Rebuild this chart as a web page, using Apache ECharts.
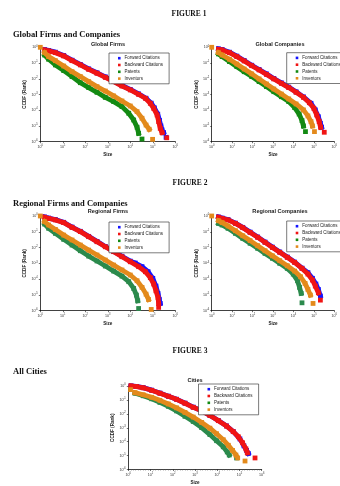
<!DOCTYPE html>
<html><head><meta charset="utf-8">
<script src="https://cdn.jsdelivr.net/npm/echarts@6/dist/echarts.min.js"></script>
<style>html,body{margin:0;padding:0;background:#fff}#c{width:340px;height:486px}</style>
</head><body><div id="c"></div>
<script>
// Values are log10 exponents: [log10(Size), log10(CCDF)]; null marks a visual gap between points.
const seriesNames = ['Forward Citations', 'Backward Citations', 'Patents', 'Inventors'];
const xTickExps = [0, 1, 2, 3, 4, 5, 6];
const yTickExps = [0, -1, -2, -3, -4, -5, -6];

// Global Firms
const gfForward = [[0.19,-0.15],[0.37,-0.2],[0.67,-0.31],[1.04,-0.52],[1.41,-0.82],[1.78,-1.09],[2.15,-1.37],[2.52,-1.62],[2.89,-1.88],[3.26,-2.15],[3.63,-2.43],[4.0,-2.68],[4.37,-2.96],[4.70,-3.24],[4.93,-3.55],[5.07,-3.85],[5.22,-4.25],[5.30,-4.65],[5.36,-5.0],[5.41,-5.25],[5.48,-5.42],null,[5.59,-5.72]];
const gfBackward = [[0.19,-0.17],[0.37,-0.23],[0.67,-0.34],[1.04,-0.55],[1.41,-0.85],[1.78,-1.12],[2.15,-1.40],[2.52,-1.65],[2.89,-1.91],[3.26,-2.18],[3.63,-2.46],[4.0,-2.71],[4.37,-2.99],[4.67,-3.24],[4.89,-3.56],[5.04,-3.88],[5.19,-4.30],[5.26,-4.72],[5.33,-5.15],[5.41,-5.42],null,[5.62,-5.75]];
const gfPatents = [[0.19,-0.49],[0.37,-0.76],[0.67,-1.12],[1.04,-1.48],[1.41,-1.86],[1.78,-2.25],[2.15,-2.56],[2.52,-2.86],[2.89,-3.18],[3.26,-3.45],[3.63,-3.77],[3.93,-4.19],[4.15,-4.62],[4.30,-5.08],[4.37,-5.47],null,[4.52,-5.83]];
const gfInventors = [[0,0],null,[0.19,-0.34],[0.37,-0.59],[0.67,-0.85],[1.04,-1.19],[1.41,-1.55],[1.78,-1.86],[2.15,-2.18],[2.52,-2.50],[2.89,-2.78],[3.26,-3.09],[3.63,-3.41],[4.0,-3.73],[4.30,-4.09],[4.52,-4.51],[4.70,-4.94],[4.84,-5.21],null,[4.99,-5.85]];

// Global Companies
const gcForward = [[0.33,-0.10],[0.51,-0.14],[0.87,-0.31],[1.23,-0.56],[1.59,-0.84],[1.96,-1.14],[2.32,-1.41],[2.68,-1.69],[3.04,-1.98],[3.41,-2.26],[3.77,-2.53],[4.13,-2.83],[4.49,-3.15],[4.86,-3.56],[5.07,-3.98],[5.22,-4.41],[5.32,-4.83],[5.38,-5.08]];
const gcBackward = [[0.33,-0.13],[0.51,-0.17],[0.87,-0.34],[1.23,-0.59],[1.59,-0.87],[1.96,-1.17],[2.32,-1.44],[2.68,-1.72],[3.04,-2.01],[3.41,-2.29],[3.77,-2.56],[4.13,-2.86],[4.49,-3.18],[4.78,-3.52],[5.0,-3.88],[5.14,-4.30],[5.26,-4.72],[5.33,-5.08],null,[5.51,-5.40]];
const gcPatents = [[0.33,-0.42],[0.51,-0.59],[0.87,-0.91],[1.23,-1.23],[1.59,-1.55],[1.96,-1.86],[2.32,-2.18],[2.68,-2.50],[3.04,-2.82],[3.41,-3.14],[3.77,-3.45],[4.06,-3.83],[4.28,-4.24],[4.42,-4.66],[4.49,-5.0],null,[4.59,-5.36]];
const gcInventors = [[0,0],null,[0.33,-0.34],[0.51,-0.49],[0.87,-0.76],[1.23,-1.06],[1.59,-1.38],[1.96,-1.69],[2.32,-2.01],[2.68,-2.33],[3.04,-2.65],[3.41,-2.97],[3.77,-3.28],[4.13,-3.60],[4.49,-3.98],[4.71,-4.36],[4.86,-4.72],[4.93,-5.0],null,[5.03,-5.36]];

// Regional Firms
const rfForward = [[0.19,-0.06],[0.37,-0.13],[0.67,-0.23],[1.04,-0.40],[1.41,-0.70],[1.78,-0.97],[2.15,-1.29],[2.52,-1.61],[2.89,-1.93],[3.26,-2.24],[3.63,-2.55],[4.0,-2.86],[4.22,-2.98],[4.52,-3.21],[4.79,-3.53],[5.0,-3.95],[5.14,-4.44],[5.23,-4.90],[5.29,-5.29],[5.33,-5.54]];
const rfBackward = [[0.19,-0.08],[0.37,-0.15],[0.67,-0.25],[1.04,-0.42],[1.41,-0.72],[1.78,-0.99],[2.15,-1.31],[2.52,-1.63],[2.89,-1.95],[3.26,-2.26],[3.63,-2.58],[4.0,-2.90],[4.37,-3.21],[4.67,-3.53],[4.89,-3.91],[5.04,-4.31],[5.14,-4.74],[5.23,-5.16],[5.26,-5.54],null,[5.26,-5.79]];
const rfPatents = [[0.19,-0.51],[0.37,-0.78],[0.67,-1.10],[1.04,-1.48],[1.41,-1.84],[1.78,-2.20],[2.15,-2.54],[2.52,-2.85],[2.89,-3.17],[3.26,-3.49],[3.63,-3.81],[3.93,-4.16],[4.15,-4.59],[4.27,-5.01],[4.33,-5.37],null,[4.37,-5.86]];
const rfInventors = [[0,0],null,[0.19,-0.36],[0.37,-0.57],[0.67,-0.85],[1.04,-1.21],[1.41,-1.52],[1.78,-1.84],[2.15,-2.16],[2.52,-2.47],[2.89,-2.79],[3.26,-3.11],[3.63,-3.42],[4.0,-3.74],[4.30,-4.10],[4.52,-4.52],[4.70,-4.95],[4.81,-5.29],null,[4.93,-5.92]];

// Regional Companies
const rcForward = [[0.33,-0.06],[0.51,-0.13],[0.80,-0.23],[1.16,-0.45],[1.52,-0.72],[1.88,-1.02],[2.25,-1.33],[2.61,-1.65],[2.97,-1.97],[3.33,-2.28],[3.70,-2.60],[4.06,-2.92],[4.42,-3.30],[4.71,-3.59],[4.93,-3.95],[5.10,-4.31],[5.22,-4.65],[5.32,-5.07]];
const rcBackward = [[0.33,-0.08],[0.51,-0.15],[0.80,-0.25],[1.16,-0.47],[1.52,-0.74],[1.88,-1.04],[2.25,-1.35],[2.61,-1.67],[2.97,-1.99],[3.33,-2.30],[3.70,-2.62],[4.06,-2.94],[4.42,-3.32],[4.71,-3.68],[4.93,-4.06],[5.07,-4.44],[5.22,-4.86],null,[5.32,-5.33]];
const rcPatents = [[0.33,-0.47],[0.51,-0.57],[0.80,-0.78],[1.16,-1.10],[1.52,-1.42],[1.88,-1.73],[2.25,-2.05],[2.61,-2.37],[2.97,-2.68],[3.33,-3.00],[3.70,-3.32],[3.99,-3.68],[4.20,-4.10],[4.30,-4.52],[4.38,-4.90],null,[4.42,-5.50]];
const rcInventors = [[0,0],null,[0.33,-0.30],[0.51,-0.42],[0.80,-0.63],[1.16,-0.93],[1.52,-1.25],[1.88,-1.56],[2.25,-1.88],[2.61,-2.20],[2.97,-2.52],[3.33,-2.83],[3.70,-3.15],[4.06,-3.49],[4.35,-3.85],[4.57,-4.27],[4.71,-4.65],[4.83,-5.01],null,[4.96,-5.54]];

// Cities
const ctForward = [[0.12,0],[0.37,-0.03],[0.67,-0.12],[1.05,-0.30],[1.42,-0.51],[1.80,-0.73],[2.17,-0.95],[2.55,-1.23],[2.92,-1.52],[3.30,-1.78],[3.67,-2.11],[4.05,-2.48],[4.42,-2.87],[4.72,-3.27],[5.02,-3.80],[5.20,-4.30],[5.32,-4.63],[5.40,-4.85]];
const ctBackward = [[0.12,0],[0.37,-0.04],[0.67,-0.13],[1.05,-0.31],[1.42,-0.52],[1.80,-0.74],[2.17,-0.96],[2.55,-1.24],[2.92,-1.53],[3.30,-1.79],[3.67,-2.12],[4.05,-2.49],[4.42,-2.88],[4.72,-3.28],[4.95,-3.65],[5.14,-4.08],[5.29,-4.52],[5.35,-4.80],null,[5.70,-5.17]];
const ctPatents = [[0.30,-0.52],[0.67,-0.70],[1.05,-0.92],[1.42,-1.18],[1.80,-1.46],[2.17,-1.79],[2.55,-2.18],[2.92,-2.55],[3.30,-2.99],[3.67,-3.49],[3.97,-3.93],[4.27,-4.37],[4.45,-4.74],[4.54,-4.96],null,[4.87,-5.17]];
const ctInventors = [[0.1,-0.26],null,[0.30,-0.48],[0.67,-0.63],[1.05,-0.81],[1.42,-1.03],[1.80,-1.29],[2.17,-1.57],[2.55,-1.90],[2.92,-2.23],[3.30,-2.62],[3.67,-3.03],[3.97,-3.43],[4.27,-3.86],[4.50,-4.26],[4.69,-4.63],[4.84,-4.96],null,[4.92,-5.17],null,[5.25,-5.39]];

const panels = [
  {title:'Global Firms', grid:{left:40.3, top:47.3, width:135, height:94.4}, tx:108, ty:44, lg:{left:109, top:53}, data:[gfForward,gfBackward,gfPatents,gfInventors], green:'#138a13', minor:false},
  {title:'Global Companies', grid:{left:211.7, top:47.3, width:138, height:94.4}, tx:280, ty:44, lg:{left:286.7, top:52.7}, data:[gcForward,gcBackward,gcPatents,gcInventors], green:'#138a13', minor:false},
  {title:'Regional Firms', grid:{left:40.3, top:216, width:135, height:94.7}, tx:108, ty:211.5, lg:{left:109, top:222}, data:[rfForward,rfBackward,rfPatents,rfInventors], green:'#2b8a4c', minor:false},
  {title:'Regional Companies', grid:{left:211.7, top:216, width:138, height:94.7}, tx:280, ty:211.5, lg:{left:286.7, top:221}, data:[rcForward,rcBackward,rcPatents,rcInventors], green:'#2b8a4c', minor:false},
  {title:'Cities', grid:{left:128.3, top:386, width:133.4, height:92}, tx:195, ty:380.5, lg:{left:198.5, top:384}, data:[ctForward,ctBackward,ctPatents,ctInventors], green:'#2b8a4c', minor:true}
];

const headings = [
  {text:'FIGURE 1', x:189, y:14, align:'center', size:7.5},
  {text:'Global Firms and Companies', x:13, y:35, align:'left', size:8.5},
  {text:'FIGURE 2', x:190, y:183, align:'center', size:7.5},
  {text:'Regional Firms and Companies', x:13, y:203.5, align:'left', size:8.5},
  {text:'FIGURE 3', x:190, y:351, align:'center', size:7.5},
  {text:'All Cities', x:13, y:371.5, align:'left', size:8.5}
];

const expRich = {b:{fontSize:3.6, color:'#333', fontFamily:'Liberation Sans'}, s:{fontSize:2.6, color:'#333', fontFamily:'Liberation Sans', padding:[0,0,3,0]}};
const expFmt = v => '{b|10}{s|' + v + '}';

const grids = [], xAxes = [], yAxes = [], series = [], legends = [], graphics = [];
panels.forEach((p, i) => {
  grids.push(Object.assign({containLabel:false}, p.grid));
  xAxes.push({gridIndex:i, type:'value', min:xTickExps[0], max:xTickExps[xTickExps.length-1], interval:1,
    name:'Size', nameLocation:'middle', nameGap:10.5,
    nameTextStyle:{fontSize:4.6, fontWeight:'bold', color:'#222', fontFamily:'Liberation Sans'},
    axisLine:{onZero:false, lineStyle:{color:'#111', width:0.8}},
    axisTick:{length:1.5, lineStyle:{color:'#111', width:0.6}},
    minorTick:{show:p.minor, splitNumber:9, length:1, lineStyle:{color:'#555', width:0.5}},
    axisLabel:{formatter:expFmt, rich:expRich, margin:2.5},
    splitLine:{show:false}});
  yAxes.push({gridIndex:i, type:'value', min:yTickExps[yTickExps.length-1], max:yTickExps[0], interval:1,
    name:'CCDF (Rank)', nameLocation:'middle', nameGap:11.5, nameRotate:90,
    nameTextStyle:{fontSize:4.6, fontWeight:'bold', color:'#222', fontFamily:'Liberation Sans'},
    axisLine:{onZero:false, lineStyle:{color:'#111', width:0.8}},
    axisTick:{length:1.5, lineStyle:{color:'#111', width:0.6}},
    axisLabel:{formatter:expFmt, rich:expRich, margin:2.5},
    splitLine:{show:false}});
  const colors = ['#1414ff', '#f01414', p.green, '#e38a1c'];
  seriesNames.forEach((n, k) => {
    series.push({type:'line', name:n, xAxisIndex:i, yAxisIndex:i, data:p.data[k],
      connectNulls:false, symbol:'rect', symbolSize:4.8, showSymbol:true,
      itemStyle:{color:colors[k]}, lineStyle:{color:colors[k], width:4.8, cap:'square'},
      animation:false, silent:true, clip:false, z:2+k});
  });
  legends.push({left:p.lg.left, top:p.lg.top, orient:'vertical', data:seriesNames.map(n => ({name:n, icon:'rect'})),
    itemWidth:2.6, itemHeight:2.6, itemGap:1.4, padding:[2.5,6,2.5,9],
    borderColor:'#222', borderWidth:0.6, backgroundColor:'#fff',
    textStyle:{fontSize:4.5, color:'#222', fontFamily:'Liberation Sans', lineHeight:5.4, padding:[0,0,0,-1]},
    selectedMode:false});
  graphics.push({type:'text', x:p.tx, y:p.ty, style:{text:p.title, font:'bold 5.6px "Liberation Sans"', fill:'#222', textAlign:'center', textVerticalAlign:'middle'}});
});
headings.forEach(h => graphics.push({type:'text', x:h.x, y:h.y, style:{text:h.text, font:'bold ' + h.size + 'px "Liberation Serif"', fill:'#111', textAlign:h.align, textVerticalAlign:'middle'}}));

const chart = echarts.init(document.getElementById('c'), null, {renderer:'canvas'});
chart.setOption({backgroundColor:'#fff', animation:false, grid:grids, xAxis:xAxes, yAxis:yAxes, series:series, legend:legends, graphic:graphics});
</script></body></html>
